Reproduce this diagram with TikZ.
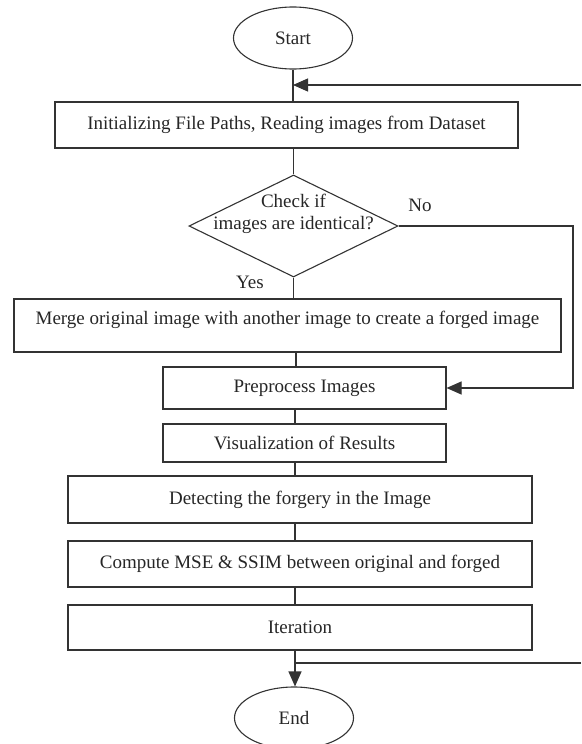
\documentclass[tikz,border=0pt]{standalone}
\usepackage{fontspec}
\setmainfont{Liberation Serif}
\usetikzlibrary{shapes.geometric,arrows.meta}
\begin{document}
\begin{tikzpicture}[x=1pt,y=-1pt,
  every node/.style={font=\fontsize{19}{22}\selectfont, text=black!85},
  box/.style={draw=black!80, line width=1.1pt, rectangle, inner sep=0pt},
  term/.style={draw=black!80, line width=1.1pt, ellipse, inner sep=0pt, minimum width=119pt, minimum height=62pt},
  dec/.style={draw=black!80, line width=1.1pt, diamond, inner sep=0pt, minimum width=209pt, minimum height=102pt},
  conn/.style={draw=black!80, line width=1.1pt},
  arr/.style={conn, -{Triangle[length=15pt,width=13pt]}},
  lbl/.style={inner sep=0pt}]
\useasboundingbox (0,0) rectangle (581,744);
\clip (0,0) rectangle (581,744);

\node[term] (start) at (293,38) {Start};
\node[box, minimum width=463pt, minimum height=46pt] (init) at (286.5,125) {Initializing File Paths, Reading images from Dataset};
\node[dec] (check) at (293.5,226) {};
\node[lbl, align=center] (checktext) at (293.5,214) {Check if\\images are identical?};
\node[box, minimum width=547pt, minimum height=53pt] (merge) at (287.5,325.5) {};
\node[lbl] (mergetext) at (287.5,320) {Merge original image with another image to create a forged image};
\node[box, minimum width=283pt, minimum height=42pt] (prep) at (304.5,388) {Preprocess Images};
\node[box, minimum width=283pt, minimum height=38pt] (vis) at (304.5,443) {Visualization of Results};
\node[box, minimum width=464pt, minimum height=47pt] (detect) at (300,499.5) {Detecting the forgery in the Image};
\node[box, minimum width=464pt, minimum height=46pt] (mse) at (300,564) {Compute MSE \& SSIM between original and forged};
\node[box, minimum width=464pt, minimum height=45pt] (iter) at (300,627.5) {Iteration};
\node[term] (end) at (294,718) {End};

\node[lbl] (no) at (420,205) {No};
\node[lbl] (yes) at (250,282) {Yes};

% connectors
\draw[conn] (start.south) -- (start.south |- init.north);
\coordinate (loopin) at (581,85);
\coordinate (loopinend) at (293,85);
\draw[arr] (loopin) -- (loopinend);
\draw[conn] (init.south -| check.north) -- (check.north);
\draw[conn] (check.south) -- (check.south |- merge.north);
\coordinate (nocorner) at (573,226);
\draw[arr] (check.east) -- (nocorner) |- (prep.east);
\coordinate (mp) at (296,352);
\draw[conn] (mp) -- (mp |- prep.north);
\coordinate (pv) at (295,409);
\draw[conn] (pv) -- (pv |- vis.north);
\coordinate (vd) at (295,462);
\draw[conn] (vd) -- (vd |- detect.north);
\coordinate (dm) at (295,523);
\draw[conn] (dm) -- (dm |- mse.north);
\coordinate (mi) at (295,587);
\draw[conn] (mi) -- (mi |- iter.north);
\coordinate (ie) at (295,650);
\draw[arr] (ie) -- (ie |- end.north);
\coordinate (loopout) at (581,663);
\coordinate (loopoutend) at (295,663);
\draw[conn] (loopout) -- (loopoutend);
\end{tikzpicture}
\end{document}
